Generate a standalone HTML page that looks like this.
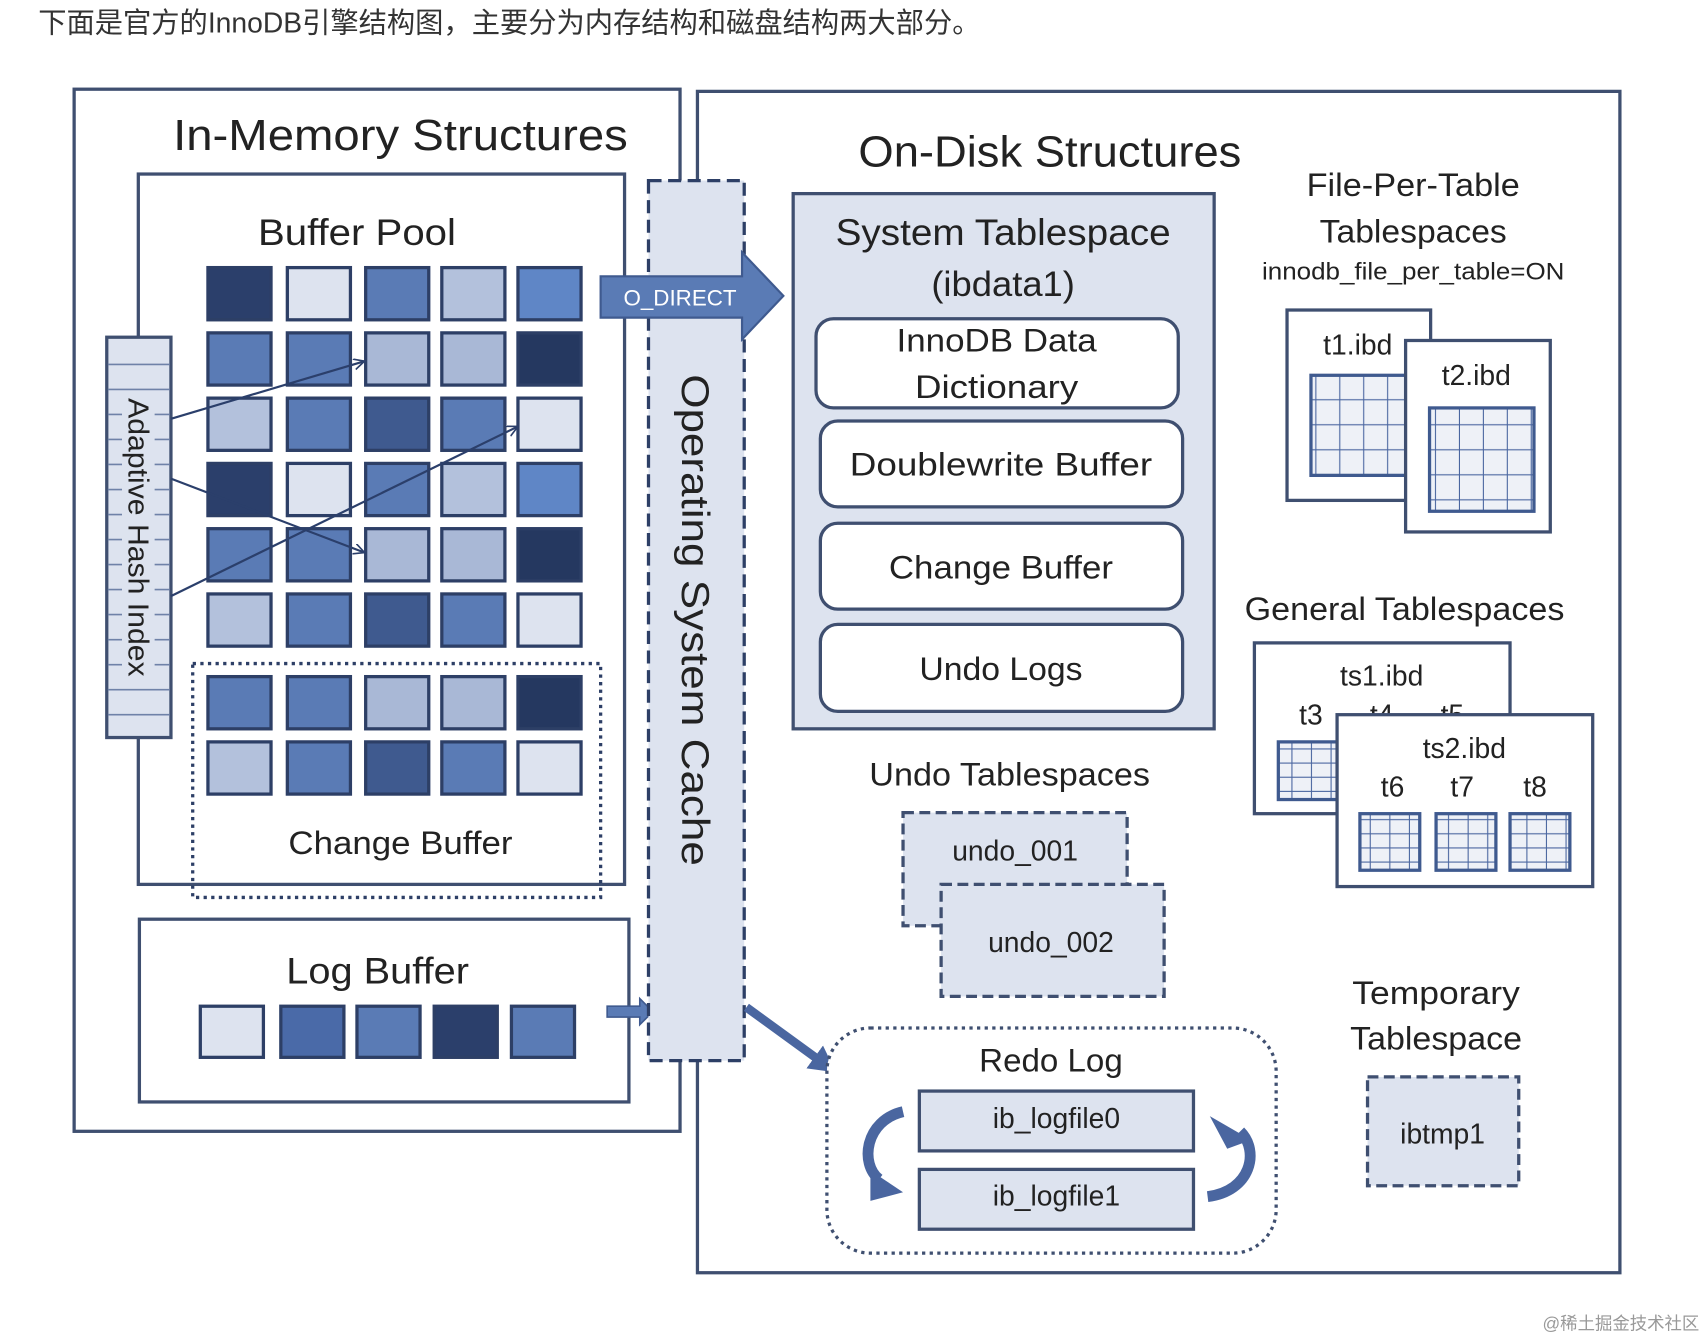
<!DOCTYPE html>
<html><head><meta charset="utf-8"><style>
html,body{margin:0;padding:0;background:#fff;}
svg{display:block;}
text{font-family:"Liberation Sans","Noto Sans CJK SC",sans-serif;fill:#222;}
</style></head><body>
<svg width="1706" height="1338" viewBox="0 0 1568 1230" xmlns="http://www.w3.org/2000/svg">
<defs>
<marker id="ah" markerWidth="12" markerHeight="12" refX="10" refY="5" orient="auto" markerUnits="userSpaceOnUse"><path d="M0,0 L10,5 L0,10" fill="none" stroke="#2b3f6b" stroke-width="1.5"/></marker>
<marker id="fh" markerWidth="24" markerHeight="26" refX="4" refY="13" orient="auto" markerUnits="userSpaceOnUse"><path d="M0,0 L24,13 L0,26 z" fill="#4a66a0"/></marker>
<pattern id="tg" width="22" height="23" patternUnits="userSpaceOnUse"><rect width="22" height="23" fill="#eef1f7"/><path d="M22,0 V23 M0,23 H22" stroke="#4a66a0" stroke-width="2"/></pattern>
<pattern id="tg2" width="18" height="13" patternUnits="userSpaceOnUse"><rect width="18" height="13" fill="#eef1f7"/><path d="M18,0 V13 M0,13 H18" stroke="#4a66a0" stroke-width="2"/></pattern>
</defs>
<text x="35" y="30" font-size="26" fill="#333" style="fill:#333">下面是官方的InnoDB引擎结构图，主要分为内存结构和磁盘结构两大部分。</text>

<!-- Right box (drawn first) -->
<rect x="641" y="84" width="848" height="1086" fill="#fff" stroke="#3f4f70" stroke-width="3"/>

<!-- Left box -->
<rect x="68" y="82" width="557" height="958" fill="#fff" stroke="#3f4f70" stroke-width="3"/>
<text x="368" y="138" font-size="40" text-anchor="middle" textLength="418" lengthAdjust="spacingAndGlyphs">In-Memory Structures</text>
<rect x="127" y="160" width="447" height="653" fill="#fff" stroke="#3f4f70" stroke-width="3"/>
<text x="328" y="225" font-size="34" text-anchor="middle" textLength="182" lengthAdjust="spacingAndGlyphs">Buffer Pool</text>

<g stroke="#2d3f66" stroke-width="3">
<rect x="191" y="246" width="58" height="48" fill="#2b3f6b"/><rect x="264" y="246" width="58" height="48" fill="#dde3ef"/><rect x="336" y="246" width="58" height="48" fill="#5a7bb5"/><rect x="406" y="246" width="58" height="48" fill="#b3c1dc"/><rect x="476" y="246" width="58" height="48" fill="#5f86c6"/>
<rect x="191" y="306" width="58" height="48" fill="#5a7bb5"/><rect x="264" y="306" width="58" height="48" fill="#5a7bb5"/><rect x="336" y="306" width="58" height="48" fill="#a9b8d6"/><rect x="406" y="306" width="58" height="48" fill="#a9b8d6"/><rect x="476" y="306" width="58" height="48" fill="#253860"/>
<rect x="191" y="366" width="58" height="48" fill="#b3c1dc"/><rect x="264" y="366" width="58" height="48" fill="#5a7bb5"/><rect x="336" y="366" width="58" height="48" fill="#3f5a8f"/><rect x="406" y="366" width="58" height="48" fill="#5a7bb5"/><rect x="476" y="366" width="58" height="48" fill="#dde3ef"/>
<rect x="191" y="426" width="58" height="48" fill="#2b3f6b"/><rect x="264" y="426" width="58" height="48" fill="#dde3ef"/><rect x="336" y="426" width="58" height="48" fill="#5a7bb5"/><rect x="406" y="426" width="58" height="48" fill="#b3c1dc"/><rect x="476" y="426" width="58" height="48" fill="#5f86c6"/>
<rect x="191" y="486" width="58" height="48" fill="#5a7bb5"/><rect x="264" y="486" width="58" height="48" fill="#5a7bb5"/><rect x="336" y="486" width="58" height="48" fill="#a9b8d6"/><rect x="406" y="486" width="58" height="48" fill="#a9b8d6"/><rect x="476" y="486" width="58" height="48" fill="#253860"/>
<rect x="191" y="546" width="58" height="48" fill="#b3c1dc"/><rect x="264" y="546" width="58" height="48" fill="#5a7bb5"/><rect x="336" y="546" width="58" height="48" fill="#3f5a8f"/><rect x="406" y="546" width="58" height="48" fill="#5a7bb5"/><rect x="476" y="546" width="58" height="48" fill="#dde3ef"/>
</g>
<rect x="177" y="610" width="375" height="215" fill="none" stroke="#2d3f66" stroke-width="3" stroke-dasharray="3,4"/>
<g stroke="#2d3f66" stroke-width="3">
<rect x="191" y="622" width="58" height="48" fill="#5a7bb5"/><rect x="264" y="622" width="58" height="48" fill="#5a7bb5"/><rect x="336" y="622" width="58" height="48" fill="#a9b8d6"/><rect x="406" y="622" width="58" height="48" fill="#a9b8d6"/><rect x="476" y="622" width="58" height="48" fill="#253860"/>
<rect x="191" y="682" width="58" height="48" fill="#b3c1dc"/><rect x="264" y="682" width="58" height="48" fill="#5a7bb5"/><rect x="336" y="682" width="58" height="48" fill="#3f5a8f"/><rect x="406" y="682" width="58" height="48" fill="#5a7bb5"/><rect x="476" y="682" width="58" height="48" fill="#dde3ef"/>
</g>
<text x="368" y="785" font-size="30" text-anchor="middle" textLength="206" lengthAdjust="spacingAndGlyphs">Change Buffer</text>

<!-- AHI -->
<rect x="98" y="310" width="59" height="368" fill="#dde3ef" stroke="#3f4f70" stroke-width="3"/>
<g stroke="#6f82a8" stroke-width="1.5">
<path d="M99,335H156M99,358H156M99,381H156M99,404H156M99,427H156M99,450H156M99,473H156M99,496H156M99,519H156M99,542H156M99,565H156M99,588H156M99,611H156M99,634H156M99,657H156"/>
</g>
<rect x="112" y="360" width="30" height="262" fill="#dde3ef"/>
<text transform="translate(118,494) rotate(90)" font-size="26" text-anchor="middle" textLength="256" lengthAdjust="spacingAndGlyphs">Adaptive Hash Index</text>
<g stroke="#2b3f6b" stroke-width="2" fill="none" marker-end="url(#ah)">
<line x1="157" y1="385" x2="335" y2="332"/>
<line x1="157" y1="440" x2="335" y2="508"/>
<line x1="157" y1="548" x2="476" y2="392"/>
</g>

<!-- Log buffer -->
<rect x="128" y="845" width="450" height="168" fill="#fff" stroke="#3f4f70" stroke-width="3"/>
<text x="347" y="904" font-size="34" text-anchor="middle" textLength="168" lengthAdjust="spacingAndGlyphs">Log Buffer</text>
<g stroke="#2d3f66" stroke-width="3">
<rect x="184" y="925" width="58" height="47" fill="#dde3ef"/><rect x="258" y="925" width="58" height="47" fill="#4a6aa8"/><rect x="328" y="925" width="58" height="47" fill="#5a7bb5"/><rect x="399" y="925" width="58" height="47" fill="#2b3f6b"/><rect x="470" y="925" width="58" height="47" fill="#5a7bb5"/>
</g>
<path d="M558,925 H588 V918 L600,930 L588,942 V935 H558 z" fill="#5a7bb5" stroke="#3f5a8f" stroke-width="1.5"/>

<!-- OS cache -->
<rect x="596" y="166" width="88" height="809" fill="#dde3ef" stroke="#2d3f66" stroke-width="3" stroke-dasharray="12,6"/>
<text transform="translate(627,570) rotate(90)" font-size="36" text-anchor="middle" textLength="452" lengthAdjust="spacingAndGlyphs">Operating System Cache</text>
<path d="M552,254 H682 V232 L720,272 L682,312 V292 H552 z" fill="#5a7bb5" stroke="#3f5a8f" stroke-width="2"/>
<text x="625" y="281" font-size="20" text-anchor="middle" style="fill:#fff" textLength="104" lengthAdjust="spacingAndGlyphs">O_DIRECT</text>
<line x1="686" y1="926" x2="752" y2="974" stroke="#4a66a0" stroke-width="8" marker-end="url(#fh)"/>

<!-- Right box content -->
<text x="965" y="153" font-size="40" text-anchor="middle" textLength="352" lengthAdjust="spacingAndGlyphs">On-Disk Structures</text>
<rect x="729" y="178" width="387" height="492" fill="#dde3ef" stroke="#3f4f70" stroke-width="3"/>
<text x="922" y="225" font-size="34" text-anchor="middle" textLength="308" lengthAdjust="spacingAndGlyphs">System Tablespace</text>
<text x="922" y="272" font-size="32" text-anchor="middle" textLength="132" lengthAdjust="spacingAndGlyphs">(ibdata1)</text>
<g fill="#fff" stroke="#3f4f70" stroke-width="3">
<rect x="750" y="293" width="333" height="82" rx="16"/>
<rect x="754" y="387" width="333" height="79" rx="16"/>
<rect x="754" y="481" width="333" height="79" rx="16"/>
<rect x="754" y="574" width="333" height="80" rx="16"/>
</g>
<g font-size="30" text-anchor="middle">
<text x="916" y="323" textLength="184" lengthAdjust="spacingAndGlyphs">InnoDB Data</text>
<text x="916" y="366" textLength="150" lengthAdjust="spacingAndGlyphs">Dictionary</text>
<text x="920" y="437" textLength="278" lengthAdjust="spacingAndGlyphs">Doublewrite Buffer</text>
<text x="920" y="532" textLength="206" lengthAdjust="spacingAndGlyphs">Change Buffer</text>
<text x="920" y="625" textLength="150" lengthAdjust="spacingAndGlyphs">Undo Logs</text>
</g>

<text x="1299" y="180" font-size="30" text-anchor="middle" textLength="196" lengthAdjust="spacingAndGlyphs">File-Per-Table</text>
<text x="1299" y="223" font-size="30" text-anchor="middle" textLength="172" lengthAdjust="spacingAndGlyphs">Tablespaces</text>
<text x="1299" y="257" font-size="22" text-anchor="middle" textLength="278" lengthAdjust="spacingAndGlyphs">innodb_file_per_table=ON</text>
<rect x="1183" y="285" width="132" height="175" fill="#fff" stroke="#3f4f70" stroke-width="3"/>
<text x="1248" y="326" font-size="26" text-anchor="middle">t1.ibd</text>
<rect x="1205" y="345" width="88" height="92" fill="url(#tg)" stroke="#3f5a8f" stroke-width="3"/>
<rect x="1292" y="313" width="133" height="176" fill="#fff" stroke="#3f4f70" stroke-width="3"/>
<text x="1357" y="354" font-size="26" text-anchor="middle">t2.ibd</text>
<rect x="1314" y="375" width="96" height="95" fill="url(#tg)" stroke="#3f5a8f" stroke-width="3"/>

<text x="1291" y="570" font-size="30" text-anchor="middle" textLength="294" lengthAdjust="spacingAndGlyphs">General Tablespaces</text>
<rect x="1153" y="591" width="235" height="157" fill="#fff" stroke="#3f4f70" stroke-width="3"/>
<text x="1270" y="630" font-size="26" text-anchor="middle">ts1.ibd</text>
<text x="1205" y="666" font-size="26" text-anchor="middle">t3</text>
<text x="1270" y="666" font-size="26" text-anchor="middle">t4</text>
<text x="1335" y="666" font-size="26" text-anchor="middle">t5</text>
<rect x="1175" y="682" width="56" height="53" fill="url(#tg2)" stroke="#3f5a8f" stroke-width="3"/>
<rect x="1229" y="657" width="235" height="158" fill="#fff" stroke="#3f4f70" stroke-width="3"/>
<text x="1346" y="697" font-size="26" text-anchor="middle">ts2.ibd</text>
<text x="1280" y="732" font-size="26" text-anchor="middle">t6</text>
<text x="1344" y="732" font-size="26" text-anchor="middle">t7</text>
<text x="1411" y="732" font-size="26" text-anchor="middle">t8</text>
<rect x="1250" y="748" width="55" height="52" fill="url(#tg2)" stroke="#3f5a8f" stroke-width="3"/>
<rect x="1320" y="748" width="55" height="52" fill="url(#tg2)" stroke="#3f5a8f" stroke-width="3"/>
<rect x="1388" y="748" width="55" height="52" fill="url(#tg2)" stroke="#3f5a8f" stroke-width="3"/>

<text x="928" y="722" font-size="30" text-anchor="middle" textLength="258" lengthAdjust="spacingAndGlyphs">Undo Tablespaces</text>
<rect x="830" y="747" width="206" height="104" fill="#dde3ef" stroke="#3f4f70" stroke-width="3" stroke-dasharray="10,5"/>
<text x="933" y="791" font-size="26" text-anchor="middle">undo_001</text>
<rect x="865" y="813" width="205" height="103" fill="#dde3ef" stroke="#3f4f70" stroke-width="3" stroke-dasharray="10,5"/>
<text x="966" y="875" font-size="26" text-anchor="middle">undo_002</text>

<text x="1320" y="923" font-size="30" text-anchor="middle" textLength="154" lengthAdjust="spacingAndGlyphs">Temporary</text>
<text x="1320" y="965" font-size="30" text-anchor="middle" textLength="158" lengthAdjust="spacingAndGlyphs">Tablespace</text>
<rect x="1257" y="990" width="139" height="100" fill="#dde3ef" stroke="#3f4f70" stroke-width="3" stroke-dasharray="10,5"/>
<text x="1326" y="1051" font-size="26" text-anchor="middle">ibtmp1</text>

<rect x="760" y="945" width="413" height="207" rx="40" fill="#fff" stroke="#3f4f70" stroke-width="3" stroke-dasharray="3,4"/>
<text x="966" y="985" font-size="30" text-anchor="middle" textLength="132" lengthAdjust="spacingAndGlyphs">Redo Log</text>
<rect x="845" y="1003" width="252" height="55" fill="#dde3ef" stroke="#3f4f70" stroke-width="3"/>
<text x="971" y="1037" font-size="26" text-anchor="middle">ib_logfile0</text>
<rect x="845" y="1075" width="252" height="55" fill="#dde3ef" stroke="#3f4f70" stroke-width="3"/>
<text x="971" y="1108" font-size="26" text-anchor="middle">ib_logfile1</text>
<path d="M830,1022 C795,1030 790,1070 808,1084" fill="none" stroke="#4a66a0" stroke-width="10"/>
<path d="M800,1076 L830,1096 L800,1104 z" fill="#4a66a0"/>
<path d="M1110,1100 C1150,1095 1158,1058 1140,1040" fill="none" stroke="#4a66a0" stroke-width="10"/>
<path d="M1150,1048 L1112,1026 L1128,1056 z" fill="#4a66a0"/>

<text x="1562" y="1222" font-size="16" text-anchor="end" style="fill:#999">@稀土掘金技术社区</text>
</svg>
</body></html>
